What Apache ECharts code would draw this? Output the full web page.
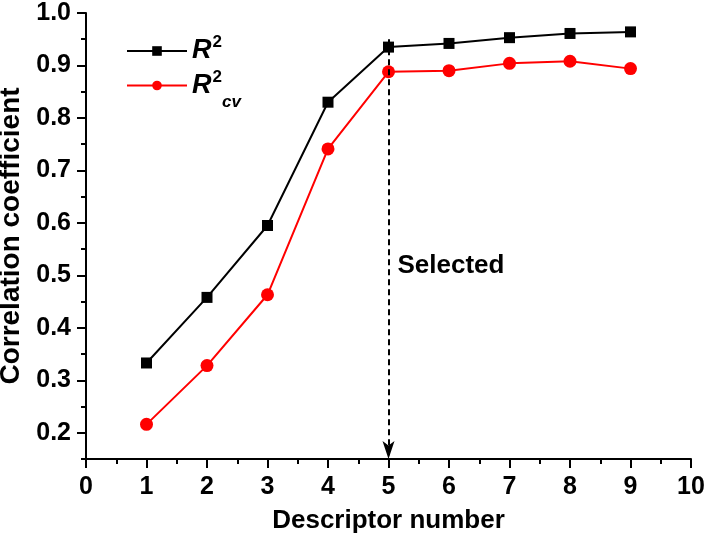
<!DOCTYPE html>
<html>
<head>
<meta charset="utf-8">
<script src="https://cdn.jsdelivr.net/npm/echarts@6/dist/echarts.min.js"></script>
<style>html,body{margin:0;padding:0;background:#fff}#c{width:710px;height:535px}</style>
</head>
<body>
<div id="c"></div>
<script>
const descriptors = [1, 2, 3, 4, 5, 6, 7, 8, 9];
const r2 = [0.333, 0.458, 0.595, 0.830, 0.935, 0.942, 0.953, 0.961, 0.964];
const r2cv = [0.216, 0.328, 0.463, 0.741, 0.888, 0.890, 0.904, 0.908, 0.894];
const yMajorTicks = [0.2, 0.3, 0.4, 0.5, 0.6, 0.7, 0.8, 0.9, 1.0];
const selectedX = 5;
const arrowFrom = 0.95;
const labelY = 0.519;

const FONT = 'Liberation Sans, Arial, sans-serif';
const chart = echarts.init(document.getElementById('c'));
const pts = (ys) => descriptors.map((x, i) => [x, ys[i]]);
const black = '#000';

chart.setOption({
  animation: false,
  backgroundColor: '#fff',
  grid: { left: 86, right: 19, top: 13, bottom: 76, containLabel: false, outerBoundsMode: 'none' },
  legend: {
    orient: 'vertical',
    left: 121,
    top: 29,
    itemWidth: 60,
    itemHeight: 12,
    itemGap: 4,
    data: ['R2', 'R2cv'],
    formatter: function (name) {
      return name === 'R2' ? '{r|R}{sup|2}' : '{r|R}{sup|2}{sub|cv}';
    },
    textStyle: {
      fontFamily: FONT,
      rich: {
        r: { fontSize: 27, fontWeight: 'bold', fontStyle: 'italic', color: black, lineHeight: 34, fontFamily: FONT },
        sup: { fontSize: 17, fontWeight: 'bold', color: black, verticalAlign: 'top', lineHeight: 34, padding: [0, 0, 0, 1], fontFamily: FONT },
        sub: { fontSize: 17, fontWeight: 'bold', fontStyle: 'italic', color: black, verticalAlign: 'bottom', lineHeight: 34, padding: [0, 0, -8, 0], fontFamily: FONT }
      }
    }
  },
  xAxis: {
    type: 'value',
    min: 0, max: 10, interval: 1,
    name: 'Descriptor number',
    nameLocation: 'middle',
    nameGap: 49,
    nameTextStyle: { fontFamily: FONT, fontSize: 26, fontWeight: 'bold', color: black },
    axisLine: { show: true, lineStyle: { color: black, width: 2 } },
    axisTick: { show: true, length: 9, lineStyle: { color: black, width: 2 } },
    minorTick: { show: true, splitNumber: 2, length: 5, lineStyle: { color: black, width: 2 } },
    axisLabel: { fontFamily: FONT, fontSize: 25, fontWeight: 'bold', color: black, margin: 16 },
    splitLine: { show: false }
  },
  yAxis: [
    {
      type: 'value',
      position: 'left',
      min: 0.15, max: 1.0,
      interval: 0.05,
      name: 'Correlation coefficient',
      nameLocation: 'middle',
      nameGap: 52,
      nameTextStyle: { fontFamily: FONT, fontSize: 28, fontWeight: 'bold', color: black },
      axisLine: { show: true, lineStyle: { color: black, width: 2 } },
      axisTick: { show: true, length: 5, lineStyle: { color: black, width: 2 } },
      axisLabel: {
        fontFamily: FONT, fontSize: 25, fontWeight: 'bold', color: black, margin: 15,
        customValues: yMajorTicks,
        formatter: function (v) { return v.toFixed(1); }
      },
      splitLine: { show: false }
    },
    {
      type: 'value',
      position: 'left',
      offset: 0,
      min: 0.15, max: 1.0,
      interval: 0.05,
      axisLine: { show: false },
      axisTick: { show: true, length: 9, customValues: yMajorTicks, lineStyle: { color: black, width: 2 } },
      axisLabel: { show: false },
      splitLine: { show: false }
    }
  ],
  series: [
    {
      name: 'R2', type: 'line', data: pts(r2),
      symbol: 'rect', symbolSize: 11,
      lineStyle: { color: black, width: 2 },
      itemStyle: { color: black },
      z: 3,
      markLine: {
        silent: true,
        symbol: ['none', 'arrow'],
        symbolSize: [9, 18],
        lineStyle: { color: black, type: [6, 4], width: 2 },
        label: { show: false },
        data: [[{ coord: [selectedX, arrowFrom] }, { coord: [selectedX, 0.15] }]]
      },
      markPoint: {
        silent: true,
        symbol: 'circle', symbolSize: 0,
        label: {
          show: true, position: 'right', distance: 9,
          formatter: 'Selected',
          fontFamily: FONT, fontSize: 26, fontWeight: 'bold', color: black
        },
        data: [{ coord: [selectedX, labelY] }]
      }
    },
    {
      name: 'R2cv', type: 'line', data: pts(r2cv),
      symbol: 'circle', symbolSize: 13,
      lineStyle: { color: '#ff0000', width: 2 },
      itemStyle: { color: '#ff0000' },
      z: 2
    }
  ]
});
</script>
</body>
</html>
